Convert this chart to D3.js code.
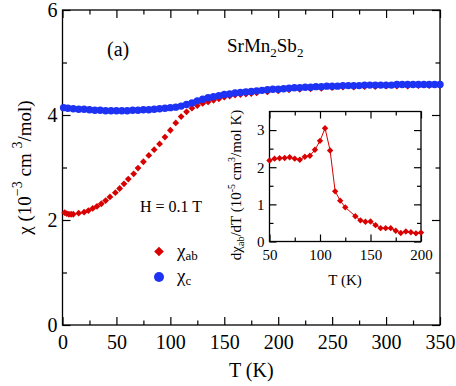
<!DOCTYPE html>
<html>
<head>
<meta charset="utf-8">
<script src="https://cdn.jsdelivr.net/npm/d3@7"></script>
<style>
body{margin:0;background:#fff}
svg text{font-family:"Liberation Serif","Noto Serif","DejaVu Serif",Tinos,FreeSerif,"Nimbus Roman","Times New Roman",Times,serif !important;fill:#000}
</style>
</head>
<body>
<svg id="chart" width="456" height="386"></svg>
<script>
// chi_ab (red diamonds), main panel
const abT=[2,4,6,8,10,15,20,24,28,32,36,40,44,49,53,57,61,66,70,75,80,85,90,95,100,105,110,115,120,125,130,135,140,145,150,155,160,165,170,175,180,190,200,210,220,230,240,250,260,270,280,290,300,310,320,330,340,350];
const abChi=[2.14,2.12,2.11,2.11,2.11,2.13,2.15,2.18,2.22,2.26,2.31,2.37,2.44,2.52,2.60,2.69,2.78,2.88,2.99,3.11,3.23,3.34,3.45,3.58,3.71,3.85,3.97,4.06,4.13,4.18,4.22,4.25,4.28,4.31,4.34,4.36,4.38,4.39,4.40,4.41,4.42,4.44,4.46,4.48,4.49,4.50,4.51,4.52,4.53,4.53,4.54,4.54,4.55,4.55,4.55,4.56,4.56,4.56];
// chi_c (blue dots)
const cT=[1,5,10,15,20,25,30,35,40,45,50,55,60,65,70,75,80,85,90,95,100,105,110,115,120,125,130,135,140,145,150,155,160,165,170,175,180,185,190,195,200,205,210,215,220,225,230,235,240,245,250,255,260,265,270,275,280,285,290,295,300,305,310,315,320,325,330,335,340,345,350];
const cChi=[4.14,4.13,4.12,4.11,4.11,4.10,4.09,4.09,4.08,4.08,4.08,4.08,4.08,4.09,4.09,4.10,4.10,4.11,4.12,4.13,4.14,4.15,4.17,4.20,4.23,4.27,4.30,4.33,4.35,4.37,4.39,4.40,4.42,4.43,4.44,4.45,4.46,4.47,4.48,4.49,4.49,4.50,4.51,4.52,4.52,4.53,4.53,4.54,4.54,4.55,4.55,4.55,4.56,4.56,4.56,4.56,4.57,4.57,4.57,4.57,4.57,4.57,4.58,4.58,4.58,4.58,4.58,4.58,4.58,4.58,4.58];
// inset: d chi_ab / dT
const dT=[50,55,60,65,70,75,80,85,90,95,100,105,110,115,120,125,135,140,145,150,155,160,165,170,175,180,185,190,195,200];
const dChi=[2.18,2.23,2.24,2.25,2.27,2.23,2.20,2.28,2.31,2.47,2.71,3.05,2.45,1.35,1.10,0.92,0.68,0.57,0.53,0.54,0.44,0.36,0.36,0.36,0.29,0.23,0.27,0.25,0.22,0.24];

const xMajor=[0,50,100,150,200,250,300,350], xMinor=[25,75,125,175,225,275,325];
const yMajor=[0,2,4,6], yMinor=[1,3,5];
const ixMajor=[50,100,150,200], ixMinor=[75,125,175];
const iyMajor=[0,1,2,3], iyMinor=[0.5,1.5,2.5];

const red="#d80000", blue="#1e32f4";
const svg=d3.select("#chart");

// main panel
const L=62.5,T0=10,R=440,B=325;
const x=d3.scaleLinear().domain([0,350]).range([L,R]);
const y=d3.scaleLinear().domain([0,6]).range([B,T0]);

function frame(g,xs,ys,xMaj,xMin,yMaj,yMin,maj,min,fs,padX,padY){
  const [x0,x1]=xs.range(), [y0,y1]=ys.range();
  const mk=(axis,vals,size,fmt)=>axis.tickValues(vals).tickSize(size).tickSizeOuter(0).tickFormat(fmt);
  const none=()=>"";
  g.append("g").attr("transform","translate(0,"+y0+")")
    .call(mk(d3.axisBottom(xs),xMaj,-maj,d3.format("d")).tickPadding(padX));
  g.append("g").attr("transform","translate(0,"+y0+")").call(mk(d3.axisBottom(xs),xMin,-min,none));
  g.append("g").attr("transform","translate(0,"+y1+")").call(mk(d3.axisTop(xs),xMaj,-maj,none));
  g.append("g").attr("transform","translate(0,"+y1+")").call(mk(d3.axisTop(xs),xMin,-min,none));
  g.append("g").attr("transform","translate("+x0+",0)")
    .call(mk(d3.axisLeft(ys),yMaj,-maj,d3.format("d")).tickPadding(padY));
  g.append("g").attr("transform","translate("+x0+",0)").call(mk(d3.axisLeft(ys),yMin,-min,none));
  g.append("g").attr("transform","translate("+x1+",0)").call(mk(d3.axisRight(ys),yMaj,-maj,none));
  g.append("g").attr("transform","translate("+x1+",0)").call(mk(d3.axisRight(ys),yMin,-min,none));
  g.selectAll(".domain").remove();
  g.selectAll(".tick line").attr("stroke","#000").attr("stroke-width",1.2);
  g.selectAll(".tick text").style("font-size",fs+"px").attr("fill","#000");
  g.append("rect").attr("x",x0).attr("y",y1).attr("width",x1-x0).attr("height",y0-y1)
    .attr("fill","none").attr("stroke","#000").attr("stroke-width",1.3);
}

const main=svg.append("g");
frame(main,x,y,xMajor,xMinor,yMajor,yMinor,8,4.5,20,10,5);

const diamond=(s)=>"M0,"+(-s)+"L"+s+",0L0,"+s+"L"+(-s)+",0Z";

main.append("g").selectAll("path").data(d3.zip(abT,abChi)).join("path")
  .attr("d",diamond(3.4)).attr("fill",red)
  .attr("transform",d=>"translate("+x(d[0])+","+y(d[1])+")");
main.append("g").selectAll("circle").data(d3.zip(cT,cChi)).join("circle")
  .attr("cx",d=>x(d[0])).attr("cy",d=>y(d[1])).attr("r",3.7).attr("fill",blue);

// axis titles
svg.append("text").attr("x",(L+R)/2).attr("y",377).attr("text-anchor","middle")
  .style("font-size","20px").text("T (K)");
const yl=svg.append("text").attr("transform","translate(31,"+(B+T0)/2+") rotate(-90)")
  .attr("text-anchor","middle").style("font-size","19px");
yl.append("tspan").text("χ (10");
yl.append("tspan").attr("dy",-9).style("font-size","14px").text("−3");
yl.append("tspan").attr("dy",9).text(" cm ");
yl.append("tspan").attr("dy",-9).style("font-size","14px").text("3");
yl.append("tspan").attr("dy",9).text("/mol)");

svg.append("text").attr("x",107).attr("y",56).style("font-size","20px").text("(a)");
const cmp=svg.append("text").attr("x",227).attr("y",52).style("font-size","19px");
cmp.append("tspan").text("SrMn");
cmp.append("tspan").attr("dy",5).style("font-size","13px").text("2");
cmp.append("tspan").attr("dy",-5).text("Sb");
cmp.append("tspan").attr("dy",5).style("font-size","13px").text("2");

svg.append("text").attr("x",140).attr("y",212).style("font-size","16px").text("H = 0.1 T");

// legend
svg.append("path").attr("d",diamond(4.8)).attr("fill",red).attr("transform","translate(159,251.5)");
svg.append("circle").attr("cx",159).attr("cy",277).attr("r",5).attr("fill",blue);
const l1=svg.append("text").attr("x",177).attr("y",257).style("font-size","19px");
l1.append("tspan").text("χ");
l1.append("tspan").attr("dy",3).style("font-size","13px").text("ab");
const l2=svg.append("text").attr("x",177).attr("y",282).style("font-size","19px");
l2.append("tspan").text("χ");
l2.append("tspan").attr("dy",3).style("font-size","13px").text("c");

// inset
const ix=d3.scaleLinear().domain([50,200]).range([269.5,421]);
const iy=d3.scaleLinear().domain([0,3.5]).range([241.5,111.5]);
const inset=svg.append("g");
inset.append("rect").attr("x",269.5).attr("y",111.5).attr("width",421-269.5).attr("height",130).attr("fill","#fff");
frame(inset,ix,iy,ixMajor,ixMinor,iyMajor,iyMinor,7,4,15,8,5);
inset.append("path").datum(d3.zip(dT,dChi))
  .attr("d",d3.line().x(d=>ix(d[0])).y(d=>iy(d[1])))
  .attr("fill","none").attr("stroke",red).attr("stroke-width",1);
inset.append("g").selectAll("path").data(d3.zip(dT,dChi)).join("path")
  .attr("d",diamond(3.2)).attr("fill",red)
  .attr("transform",d=>"translate("+ix(d[0])+","+iy(d[1])+")");

svg.append("text").attr("x",345).attr("y",285).attr("text-anchor","middle")
  .style("font-size","15px").text("T (K)");
const il=svg.append("text").attr("transform","translate(241,185) rotate(-90)")
  .attr("text-anchor","middle").style("font-size","15px");
il.append("tspan").text("dχ");
il.append("tspan").attr("dy",3).style("font-size","10px").text("ab");
il.append("tspan").attr("dy",-3).text("/dT (10");
il.append("tspan").attr("dy",-6).style("font-size","10px").text("-5");
il.append("tspan").attr("dy",6).text(" cm");
il.append("tspan").attr("dy",-6).style("font-size","10px").text("3");
il.append("tspan").attr("dy",6).text("/mol K)");
</script>
</body>
</html>
